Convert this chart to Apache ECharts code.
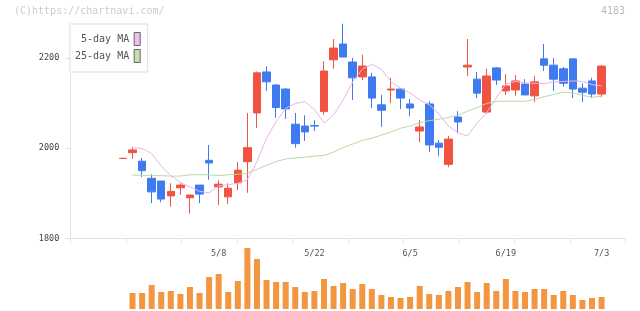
<!DOCTYPE html>
<html>
<head>
<meta charset="utf-8">
<script src="https://cdn.jsdelivr.net/npm/echarts@6/dist/echarts.min.js"></script>
<style>
  html, body { margin: 0; padding: 0; background: #fff; }
  #chartmain { width: 640px; height: 311px; }
</style>
</head>
<body>
<div id="chartmain"></div>
<script>
// trading days shown
var dates = ['4/19','4/22','4/23','4/24','4/25','4/26','4/30','5/1','5/2','5/7',
  '5/8','5/9','5/10','5/13','5/14','5/15','5/16','5/17','5/20','5/21',
  '5/22','5/23','5/24','5/27','5/28','5/29','5/30','5/31','6/3','6/4',
  '6/5','6/6','6/7','6/10','6/11','6/12','6/13','6/14','6/17','6/18',
  '6/19','6/20','6/21','6/24','6/25','6/26','6/27','6/28','7/1','7/2','7/3'];
var tickDates = ['5/8','5/22','6/5','6/19','7/3'];
var priceTicks = [1800, 2000, 2200];

// [open, close, low, high]
var ohlc = [
  [1977,1977.5,1977,1977.5],[1990,1996,1976,2002],[1971,1950,1936,1978],[1933,1903,1878,1942],
  [1927,1887,1880,1927],[1894,1904,1870,1922],[1912,1918,1896,1922],[1890,1896,1855,1896],
  [1918,1898,1878,1918],[1973,1967,1930,2007],[1914,1920,1874,1929],[1892,1911,1876,1922],
  [1923,1951,1907,1969],[1970,2001,1901,2078],[2078,2167,2045,2170],[2169,2147,2127,2182],
  [2140,2090,2067,2142],[2131,2087,2065,2133],[2053,2010,2001,2078],[2049,2036,2016,2073],
  [2050,2049,2038,2062],[2081,2171,2074,2193],[2196,2222,2176,2242],[2231,2202,2202,2276],
  [2191,2156,2107,2200],[2158,2182,2151,2207],[2158,2111,2089,2167],[2096,2084,2047,2118],
  [2129,2131,2100,2156],[2131,2111,2087,2133],[2098,2089,2071,2109],[2038,2047,2013,2062],
  [2098,2007,1991,2104],[2011,2002,1982,2018],[1964,2020,1958,2027],[2069,2058,2033,2082],
  [2180,2184,2160,2242],[2153,2122,2111,2169],[2080,2160,2076,2176],[2178,2151,2140,2180],
  [2127,2138,2118,2164],[2129,2149,2116,2162],[2142,2118,2118,2153],[2116,2147,2102,2160],
  [2198,2184,2171,2231],[2184,2153,2127,2200],[2176,2144,2136,2180],[2198,2131,2111,2198],
  [2133,2124,2102,2144],[2149,2120,2111,2156],[2120,2182,2113,2184]
];

var ma5 = ['-',2001,1999,1988,1960,1939,1924,1914,1904,1901,
  1916,1919,1922,1930,1970,2022,2059,2088,2099,2103,
  2086,2056,2073,2107,2147,2175,2186,2175,2147,2133,
  2122,2107,2096,2076,2049,2034,2027,2056,2079,2111,
  2142,2148,2145,2144,2143,2147,2148,2149,2148,2141,2138];

var ma25 = ['-',1940,1940,1939,1939,1938,1938,1941,1941,1941,
  1939,1941,1942,1944,1953,1962,1970,1976,1978,1980,
  1982,1984,1991,2001,2009,2017,2022,2029,2036,2044,
  2049,2056,2061,2064,2068,2073,2082,2090,2099,2104,
  2104,2104,2104,2108,2114,2119,2124,2123,2117,2113,2115];

var volume = ['-',16,16,24,17,18,15,22,16,32,35,
  17,28,61,50,29,27,27,22,17,18,
  30,23,26,20,25,20,14,12,11,12,
  23,15,14,18,22,27,17,26,18,30,
  18,17,20,20,14,18,14,9,11,12];

// empty slots before / after the candles
var padL = 5, padR = 2;
function pad(arr) {
  var out = [];
  for (var i = 0; i < padL; i++) out.push('-');
  out = out.concat(arr);
  for (var j = 0; j < padR; j++) out.push('-');
  return out;
}
var cats = [];
for (var i = 0; i < padL; i++) cats.push('p' + i);
cats = cats.concat(dates);
for (var j = 0; j < padR; j++) cats.push('q' + j);

var red = '#f25241', blue = '#3f7bf0';
var mono = 'DejaVu Sans Mono';
var axisGray = '#e2e2e2';

var option = {
  animation: false,
  textStyle: { fontFamily: mono },
  graphic: [
    { type: 'text', left: 14, top: 6, style: { text: '(C)https://chartnavi.com/', fill: '#cccccc', font: '10px "DejaVu Sans Mono"' } },
    { type: 'text', right: 15, top: 6, style: { text: '4183', fill: '#bbbbbb', font: '10px "DejaVu Sans Mono"' } }
  ],
  legend: {
    orient: 'vertical',
    left: 70,
    top: 24,
    align: 'right',
    icon: 'rect',
    itemWidth: 6,
    itemHeight: 13,
    itemGap: 3,
    padding: [8, 7, 9, 5],
    backgroundColor: '#fff',
    borderColor: '#dddddd',
    borderWidth: 1,
    itemStyle: { borderColor: '#666', borderWidth: 1 },
    textStyle: { fontFamily: mono, fontSize: 10, color: '#555' },
    data: ['5-day MA', '25-day MA']
  },
  grid: [
    { left: 70.3, right: 14.5, top: 23.7, bottom: 72.7 },
    { left: 70.3, right: 14.5, top: 245, bottom: 2 }
  ],
  xAxis: [
    {
      type: 'category', gridIndex: 0, data: cats,
      axisLine: { lineStyle: { color: axisGray } },
      axisTick: { show: false },
      axisLabel: {
        interval: 0, margin: 11, fontSize: 8.5, color: '#555', fontFamily: mono,
        formatter: function (v) { return tickDates.indexOf(v) >= 0 ? v : ''; }
      },
      splitLine: { show: false }
    },
    {
      type: 'value', gridIndex: 0, position: 'bottom', min: 0, max: 10, interval: 1,
      axisLine: { show: false },
      axisTick: { show: true, length: 5, lineStyle: { color: axisGray } },
      axisLabel: { show: false },
      splitLine: { show: false }
    },
    {
      type: 'category', gridIndex: 1, data: cats,
      axisLine: { show: false }, axisTick: { show: false }, axisLabel: { show: false }
    }
  ],
  yAxis: [
    {
      type: 'value', gridIndex: 0, min: 1800, max: 2276, position: 'left',
      axisLine: { show: true, lineStyle: { color: axisGray } },
      axisTick: { show: true, length: 5, customValues: priceTicks, lineStyle: { color: axisGray } },
      axisLabel: {
        customValues: priceTicks, margin: 11, fontSize: 8.5, color: '#444', fontFamily: mono,
        formatter: function (v) { return String(v); }
      },
      splitLine: { show: false }
    },
    {
      type: 'value', gridIndex: 1, min: 0, max: 64,
      axisLine: { show: false }, axisTick: { show: false }, axisLabel: { show: false }, splitLine: { show: false }
    }
  ],
  series: [
    {
      type: 'candlestick', xAxisIndex: 0, yAxisIndex: 0,
      barWidth: 8,
      itemStyle: { color: red, color0: blue, borderColor: red, borderColor0: blue, borderColorDoji: red, borderWidth: 1 },
      data: pad(ohlc)
    },
    {
      name: '5-day MA', type: 'line', xAxisIndex: 0, yAxisIndex: 0,
      showSymbol: false, symbol: 'none',
      itemStyle: { color: '#efbdf0' },
      lineStyle: { color: '#eab4ec', width: 1 },
      data: pad(ma5)
    },
    {
      name: '25-day MA', type: 'line', xAxisIndex: 0, yAxisIndex: 0,
      showSymbol: false, symbol: 'none',
      itemStyle: { color: '#bde0ae' },
      lineStyle: { color: '#b5dba4', width: 1 },
      data: pad(ma25)
    },
    {
      type: 'bar', xAxisIndex: 2, yAxisIndex: 1,
      barWidth: 6,
      itemStyle: { color: '#f29740' },
      data: pad(volume)
    }
  ]
};

var myChart = echarts.init(document.getElementById('chartmain'));
myChart.setOption(option);
</script>
</body>
</html>
